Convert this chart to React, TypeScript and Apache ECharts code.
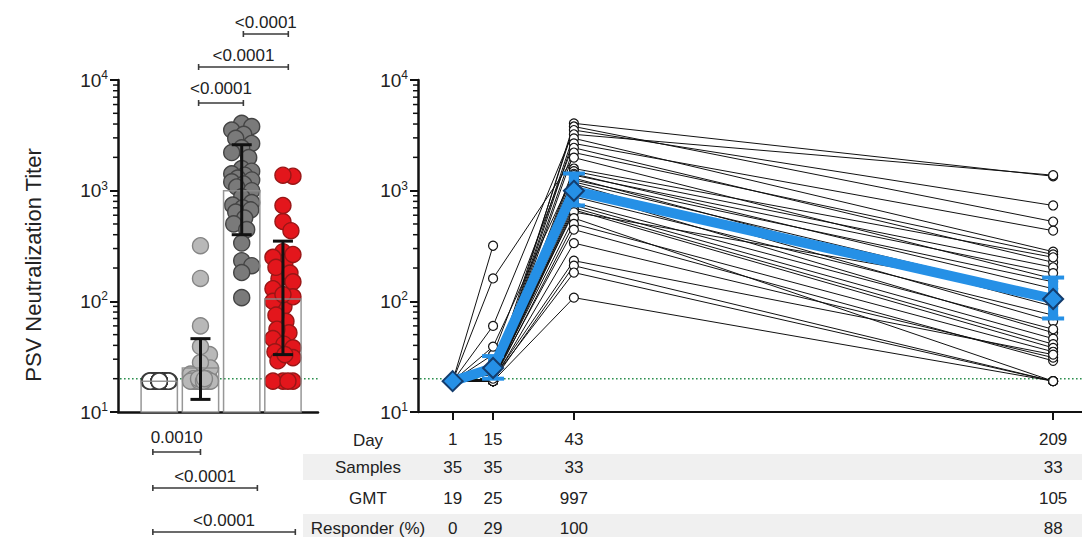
import React, { useEffect, useRef } from 'react';
import * as echarts from 'echarts';

const FONT = "'Liberation Sans', Arial, Helvetica, sans-serif";

// ---------- data ----------
const groupX = [1, 2, 3, 4];
const days = [1, 15, 43, 209];
const gmtValues = [19, 25, 997, 105];
const barSdLow = [19, 13, 400, 33];
const barSdHigh = [19, 46, 2600, 350];
const gmtCiLow = [19, 20, 735, 70];
const gmtCiHigh = [19, 32, 1430, 164];
const samplesRow = [35, 35, 33, 33];
const gmtRow = [19, 25, 997, 105];
const responderRow = [0, 29, 100, 88];
const rowLabels = ['Day', 'Samples', 'GMT', 'Responder (%)'];
const pTop = ['<0.0001', '<0.0001', '<0.0001'];
const pBottom = ['0.0010', '<0.0001', '<0.0001'];
const lloqTiter = 20;

// per-subject titers (35 subjects)
const titerDay1 = [19, 19, 19, 19, 19, 19, 19, 19, 19, 19, 19, 19, 19, 19, 19, 19, 19, 19, 19, 19, 19, 19, 19, 19, 19, 19, 19, 19, 19, 19, 19, 19, 19, 19, 19];
const titerDay15 = [19, 22, 60, 20, 19, 33, 20, 19, 161, 20, 19, 39, 20, 19, 25, 20, 19, 20, 19, 28, 20, 19, 20, 19, 22, 20, 19, 20, 19, 20, 19, 20, 19, 318, 20];
const titerDay43 = [4060, 3800, 3530, 3230, 2970, 2670, 2440, 2210, 1990, 1585, 1500, 1420, 1380, 1300, 1250, 1200, 1150, 1080, 1000, 880, 780, 740, 700, 670, 640, 565, 501, 445, 336, 233, 210, 182, 108, null, null];
const titerDay209 = [1350, 526, 735, 1380, 281, 435, 225, 265, 160, 250, 203, 130, 180, 90, 150, 110, 66, 100, 52, 75, 56, 46, 41, 38, 115, 19, 35, 29, 31, 33, 19, 19, 19, null, null];

// ---------- layout ----------
const LEFT_GRID = { left: 118, top: 80, width: 200, height: 332 };
const RIGHT_GRID = { left: 418, top: 80, width: 664, height: 332 };
const topBrackets = [
  { from: 1.955, to: 3.04, lineY: 103, textY: 88 },
  { from: 1.955, to: 4.13, lineY: 67, textY: 55 },
  { from: 3.04, to: 4.13, lineY: 34, textY: 22 },
];
const bottomBrackets = [
  { from: 0.845, to: 2.0, lineY: 452, textY: 437 },
  { from: 0.845, to: 3.38, lineY: 488, textY: 476 },
  { from: 0.845, to: 4.3, lineY: 532, textY: 520 },
];
const rowY = [440, 467, 498, 528];
const rowLabelX = 368;

const groupFill = ['#ffffff', '#b8b8b8', '#7a7a7a', '#e3161c'];
const groupStroke = ['#3a3a3a', '#858585', '#444444', '#981616'];
const BLUE = '#2590e6';
const AXIS = '#111111';
const TEXT = '#222222';

const minorTickValues: number[] = [];
for (let e = 1; e < 4; e++) for (let m = 2; m <= 9; m++) minorTickValues.push(m * Math.pow(10, e));

function swarm(ys: number[], r: number, maxOff: number): number[] {
  const idx = ys.map((_, i) => i).sort((a, b) => ys[a] - ys[b]);
  const placed: Array<[number, number]> = [];
  const offs: number[] = ys.map(() => 0);
  const minD = r * 1.45;
  const cands: number[] = [0];
  for (let k = 1; k <= maxOff; k++) cands.push(k, -k);
  for (const i of idx) {
    let best = 0;
    let bestD = -1;
    for (const c of cands) {
      let d = Infinity;
      for (const [px, py] of placed) {
        const dd = Math.hypot(px - c, py - ys[i]);
        if (dd < d) d = dd;
      }
      if (d >= minD) { best = c; bestD = d; break; }
      if (d > bestD) { bestD = d; best = c; }
    }
    offs[i] = best;
    placed.push([best, ys[i]]);
  }
  return offs;
}

function yAxisCfg(gridIndex: number) {
  return {
    type: 'log', logBase: 10, gridIndex, min: 10, max: 10000,
    axisLine: { show: true, onZero: false, lineStyle: { color: AXIS, width: 2.5 } },
    axisTick: { show: true, length: 8, lineStyle: { color: AXIS, width: 2 } },
    axisLabel: {
      margin: 10,
      formatter: (v: number) => `{b|10}{s|${Math.round(Math.log10(v))}}`,
      rich: {
        b: { fontSize: 19, fontFamily: FONT, color: TEXT, lineHeight: 22 },
        s: { fontSize: 12, fontFamily: FONT, color: TEXT, verticalAlign: 'top', lineHeight: 12 },
      },
    },
    splitLine: { show: false },
  };
}

function minorTickSeries(idx: number) {
  return {
    type: 'custom', xAxisIndex: idx, yAxisIndex: idx, clip: false, silent: true, z: 5,
    data: minorTickValues.map((v) => [0, v]),
    renderItem: (params: any, api: any) => {
      const y = api.coord([0, api.value(1)])[1];
      const x0 = params.coordSys.x;
      return { type: 'line', shape: { x1: x0 - 5, y1: y, x2: x0, y2: y }, style: { stroke: AXIS, lineWidth: 1.5 } };
    },
  };
}

function lloqSeries(idx: number) {
  return {
    type: 'custom', xAxisIndex: idx, yAxisIndex: idx, clip: false, silent: true, z: 2,
    data: [[0, lloqTiter]],
    renderItem: (params: any, api: any) => {
      const y = api.coord([0, api.value(1)])[1];
      const cs = params.coordSys;
      return {
        type: 'line', shape: { x1: cs.x + 2, y1: y, x2: cs.x + cs.width, y2: y },
        style: { stroke: '#2e8f50', lineWidth: 1.6, lineDash: [1.6, 2.4] },
      };
    },
  };
}

function bracketSeries(list: typeof topBrackets, labels: string[]) {
  return {
    type: 'custom', xAxisIndex: 0, yAxisIndex: 0, clip: false, silent: true, z: 6,
    data: list.map((b) => [b.from, 10]),
    renderItem: (params: any, api: any) => {
      const b = list[params.dataIndex];
      const x1 = api.coord([b.from, 10])[0];
      const x2 = api.coord([b.to, 10])[0];
      const st = { stroke: '#3a3a3a', lineWidth: 1.6 };
      return {
        type: 'group',
        children: [
          { type: 'line', shape: { x1, y1: b.lineY, x2, y2: b.lineY }, style: st },
          { type: 'line', shape: { x1, y1: b.lineY - 3, x2: x1, y2: b.lineY + 3 }, style: st },
          { type: 'line', shape: { x1: x2, y1: b.lineY - 3, x2, y2: b.lineY + 3 }, style: st },
          {
            type: 'text', x: (x1 + x2) / 2, y: b.textY,
            style: { text: labels[params.dataIndex], fontSize: 17, fontFamily: FONT, fill: TEXT, align: 'center', verticalAlign: 'middle' },
          },
        ],
      };
    },
  };
}

function buildOption() {
  const groupValues = [
    titerDay1,
    titerDay15,
    titerDay43.filter((v) => v != null) as number[],
    titerDay209.filter((v) => v != null) as number[],
  ];

  const series: any[] = [];

  // bar fills
  series.push({
    type: 'custom', xAxisIndex: 0, yAxisIndex: 0, z: 1, silent: true,
    data: groupX.map((x, i) => [x, gmtValues[i]]),
    renderItem: (params: any, api: any) => {
      const x = api.value(0);
      const a = api.coord([x - 0.44, api.value(1)]);
      const b = api.coord([x + 0.44, 10]);
      return { type: 'rect', shape: { x: a[0], y: a[1], width: b[0] - a[0], height: b[1] - a[1] }, style: { fill: '#ffffff' } };
    },
  });

  series.push(lloqSeries(0));

  // scatter points (beeswarm)
  groupValues.forEach((vals, g) => {
    let offsets: number[] = [];
    series.push({
      type: 'custom', xAxisIndex: 0, yAxisIndex: 0, z: 3, silent: true, clip: false,
      data: vals.map((v) => [groupX[g], v]),
      renderItem: (params: any, api: any) => {
        if (params.dataIndex === 0 || offsets.length !== vals.length) {
          const ys = vals.map((v) => api.coord([groupX[g], v])[1]);
          offsets = swarm(ys, 8, 10);
        }
        const p = api.coord([api.value(0), api.value(1)]);
        return {
          type: 'circle',
          shape: { cx: p[0] + offsets[params.dataIndex], cy: p[1], r: 8 },
          style: { fill: groupFill[g], stroke: groupStroke[g], lineWidth: 1.4 },
        };
      },
    });
  });

  // bar outlines
  series.push({
    type: 'custom', xAxisIndex: 0, yAxisIndex: 0, z: 4, silent: true,
    data: groupX.map((x, i) => [x, gmtValues[i]]),
    renderItem: (params: any, api: any) => {
      const x = api.value(0);
      const a = api.coord([x - 0.44, api.value(1)]);
      const b = api.coord([x + 0.44, 10]);
      return {
        type: 'rect', shape: { x: a[0], y: a[1], width: b[0] - a[0], height: b[1] - a[1] },
        style: { fill: 'none', stroke: '#8c8c8c', lineWidth: 1.5, opacity: 0.9 },
      };
    },
  });

  // SD error bars
  series.push({
    type: 'custom', xAxisIndex: 0, yAxisIndex: 0, z: 5, silent: true,
    data: groupX.map((x, i) => [x, barSdLow[i], barSdHigh[i]]),
    encode: { x: 0, y: [1, 2] },
    renderItem: (params: any, api: any) => {
      const x = api.value(0);
      if (api.value(1) === api.value(2)) return null;
      const lo = api.coord([x, api.value(1)]);
      const hi = api.coord([x, api.value(2)]);
      const st = { stroke: '#111', lineWidth: 3 };
      return {
        type: 'group',
        children: [
          { type: 'line', shape: { x1: lo[0], y1: lo[1], x2: hi[0], y2: hi[1] }, style: st },
          { type: 'line', shape: { x1: lo[0] - 10, y1: lo[1], x2: lo[0] + 10, y2: lo[1] }, style: st },
          { type: 'line', shape: { x1: hi[0] - 10, y1: hi[1], x2: hi[0] + 10, y2: hi[1] }, style: st },
        ],
      };
    },
  });

  series.push(bracketSeries(topBrackets, pTop));
  series.push(bracketSeries(bottomBrackets, pBottom));
  series.push(minorTickSeries(0));

  // ---------- right panel ----------
  series.push(lloqSeries(1));

  titerDay1.forEach((_, s) => {
    const vals = [titerDay1[s], titerDay15[s], titerDay43[s], titerDay209[s]];
    const data = days.map((d, k) => [d, vals[k]]).filter((p) => p[1] != null);
    series.push({
      type: 'line', xAxisIndex: 1, yAxisIndex: 1, data, silent: true, z: 3,
      symbol: 'circle', symbolSize: 9, showAllSymbol: true,
      lineStyle: { color: '#111', width: 1 },
      itemStyle: { color: '#ffffff', borderColor: '#111', borderWidth: 1.2 },
    });
  });

  // GMT 95% CI
  series.push({
    type: 'custom', xAxisIndex: 1, yAxisIndex: 1, z: 4, silent: true,
    data: days.map((d, i) => [d, gmtCiLow[i], gmtCiHigh[i]]),
    encode: { x: 0, y: [1, 2] },
    renderItem: (params: any, api: any) => {
      const x = api.value(0);
      if (api.value(1) === api.value(2)) return null;
      const lo = api.coord([x, api.value(1)]);
      const hi = api.coord([x, api.value(2)]);
      const st = { stroke: BLUE, lineWidth: 4 };
      return {
        type: 'group',
        children: [
          { type: 'line', shape: { x1: lo[0], y1: lo[1], x2: hi[0], y2: hi[1] }, style: { stroke: BLUE, lineWidth: 10 } },
          { type: 'line', shape: { x1: lo[0] - 11, y1: lo[1], x2: lo[0] + 11, y2: lo[1] }, style: st },
          { type: 'line', shape: { x1: hi[0] - 11, y1: hi[1], x2: hi[0] + 11, y2: hi[1] }, style: st },
        ],
      };
    },
  });

  series.push({
    type: 'line', xAxisIndex: 1, yAxisIndex: 1, z: 5, silent: true,
    data: days.map((d, i) => [d, gmtValues[i]]),
    symbol: 'diamond', symbolSize: 20, showAllSymbol: true,
    lineStyle: { color: BLUE, width: 10 },
    itemStyle: { color: BLUE, borderColor: '#143d6e', borderWidth: 2 },
  });

  // table values
  series.push({
    type: 'custom', xAxisIndex: 1, yAxisIndex: 1, z: 6, silent: true, clip: false,
    data: days.map((d, i) => [d, samplesRow[i], gmtRow[i], responderRow[i]]),
    encode: { x: 0, y: 1 },
    renderItem: (params: any, api: any) => {
      const x = api.coord([api.value(0), 10])[0];
      const vals = [api.value(1), api.value(2), api.value(3)];
      return {
        type: 'group',
        children: vals.map((v: number, k: number) => ({
          type: 'text', x, y: rowY[k + 1],
          style: { text: String(v), fontSize: 17, fontFamily: FONT, fill: TEXT, align: 'center', verticalAlign: 'middle' },
        })),
      };
    },
  });

  series.push(minorTickSeries(1));

  return {
    animation: false,
    backgroundColor: '#ffffff',
    grid: [
      { ...LEFT_GRID, outerBoundsMode: 'none', containLabel: false },
      { ...RIGHT_GRID, outerBoundsMode: 'none', containLabel: false },
    ],
    xAxis: [
      {
        type: 'value', gridIndex: 0, min: 0, max: 4.85,
        axisLine: { show: true, onZero: false, lineStyle: { color: AXIS, width: 2.5 } },
        axisTick: { show: false }, axisLabel: { show: false }, splitLine: { show: false },
      },
      {
        type: 'value', gridIndex: 1, min: -11, max: 219,
        axisLine: { show: true, onZero: false, lineStyle: { color: AXIS, width: 2 } },
        axisTick: { show: true, customValues: days, length: 8, lineStyle: { color: AXIS, width: 2 } },
        axisLabel: { show: true, customValues: days, margin: 19, fontSize: 17, fontFamily: FONT, color: TEXT },
        splitLine: { show: false },
      },
    ],
    yAxis: [yAxisCfg(0), yAxisCfg(1)],
    graphic: [
      { type: 'rect', z: 0, shape: { x: 303, y: 454, width: 779, height: 26 }, style: { fill: '#f0f0f0' } },
      { type: 'rect', z: 0, shape: { x: 303, y: 514, width: 779, height: 23 }, style: { fill: '#f0f0f0' } },
      ...rowLabels.map((t, k) => ({
        type: 'text', z: 10, x: rowLabelX, y: rowY[k],
        style: { text: t, fontSize: 17, fontFamily: FONT, fill: TEXT, align: 'center', verticalAlign: 'middle' },
      })),
      {
        type: 'text', z: 10, x: 33, y: 265, rotation: Math.PI / 2,
        style: { text: 'PSV Neutralization Titer', fontSize: 22, fontFamily: FONT, fill: TEXT, align: 'center', verticalAlign: 'middle' },
      },
    ],
    series,
  };
}

export default function App() {
  const ref = useRef<HTMLDivElement>(null);
  useEffect(() => {
    const chart = echarts.init(ref.current!, null, { renderer: 'svg' });
    chart.setOption(buildOption() as any);
    return () => chart.dispose();
  }, []);
  return (
    <div
      ref={ref}
      style={{ position: 'absolute', left: 0, top: 0, width: 1082, height: 537, background: '#fff' }}
    />
  );
}
